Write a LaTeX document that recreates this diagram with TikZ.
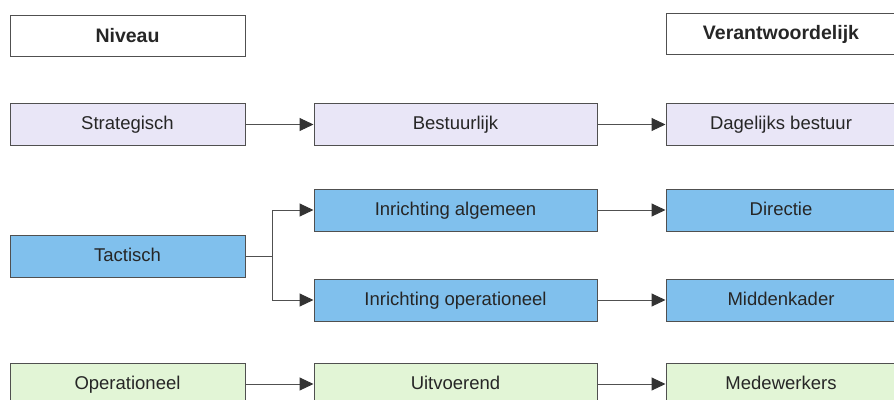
\documentclass[tikz,border=0pt]{standalone}
\usepackage{fontspec}
\setmainfont{Liberation Sans}
\usepackage{xcolor}
\usetikzlibrary{arrows.meta}
\definecolor{lavendel}{RGB}{233,230,247}
\definecolor{hemelblauw}{RGB}{128,192,237}
\definecolor{lichtgroen}{RGB}{226,245,214}
\definecolor{rand}{RGB}{80,80,80}

\begin{document}
\begin{tikzpicture}[x=1pt, y=-1pt,
        kop/.style={rectangle, draw=rand, fill=white, line width=1pt, minimum height=41pt, font=\fontsize{19.5}{22}\selectfont\bfseries, text=black!85},
        blok/.style={rectangle, draw=rand, line width=1pt, minimum height=42pt, text height=14pt, text depth=4pt, font=\fontsize{18.5}{22}\selectfont, text=black!85},
        links/.style={blok, minimum width=235pt},
        midden/.style={blok, minimum width=283pt},
        rechts/.style={blok, minimum width=230pt},
        pijl/.style={-{Triangle[length=14pt,width=13pt,color=black!80]}, rand, line width=1pt}
    ]
        \useasboundingbox (0,0) rectangle (894,399);
        \clip (0,0) rectangle (894,399);

        % Koppen
        \node[kop, minimum width=235pt] (niveau) at (127.5,35.5) {Niveau};
        \node[kop, minimum width=230pt] (verantw) at (781,34) {Verantwoordelijk};

        % Strategisch
        \node[links, fill=lavendel] (strategisch) at (127.5,124.5) {Strategisch};
        \node[midden, fill=lavendel] (bestuurlijk) at (455.5,124.5) {Bestuurlijk};
        \node[rechts, fill=lavendel] (db) at (781,124.5) {Dagelijks bestuur};

        % Tactisch
        \node[links, fill=hemelblauw] (tactisch) at (127.5,256) {Tactisch};
        \node[midden, fill=hemelblauw] (algemeen) at (455.5,210) {Inrichting algemeen};
        \node[rechts, fill=hemelblauw] (directie) at (781,210) {Directie};
        \node[midden, fill=hemelblauw] (operationeel) at (455.5,300) {Inrichting operationeel};
        \node[rechts, fill=hemelblauw] (middenkader) at (781,300) {Middenkader};

        % Operationeel
        \node[links, fill=lichtgroen] (oper) at (127.5,384) {Operationeel};
        \node[midden, fill=lichtgroen] (uitvoerend) at (455.5,384) {Uitvoerend};
        \node[rechts, fill=lichtgroen] (medewerkers) at (781,384) {Medewerkers};

        % Pijlen
        \coordinate (splits) at (272,256);
        \draw[pijl] (strategisch) -- (bestuurlijk);
        \draw[pijl] (bestuurlijk) -- (db);
        \draw[rand, line width=1pt] (tactisch) -- (splits);
        \draw[pijl] (splits) |- (algemeen);
        \draw[pijl] (splits) |- (operationeel);
        \draw[pijl] (algemeen) -- (directie);
        \draw[pijl] (operationeel) -- (middenkader);
        \draw[pijl] (oper) -- (uitvoerend);
        \draw[pijl] (uitvoerend) -- (medewerkers);
    \end{tikzpicture}
\end{document}
